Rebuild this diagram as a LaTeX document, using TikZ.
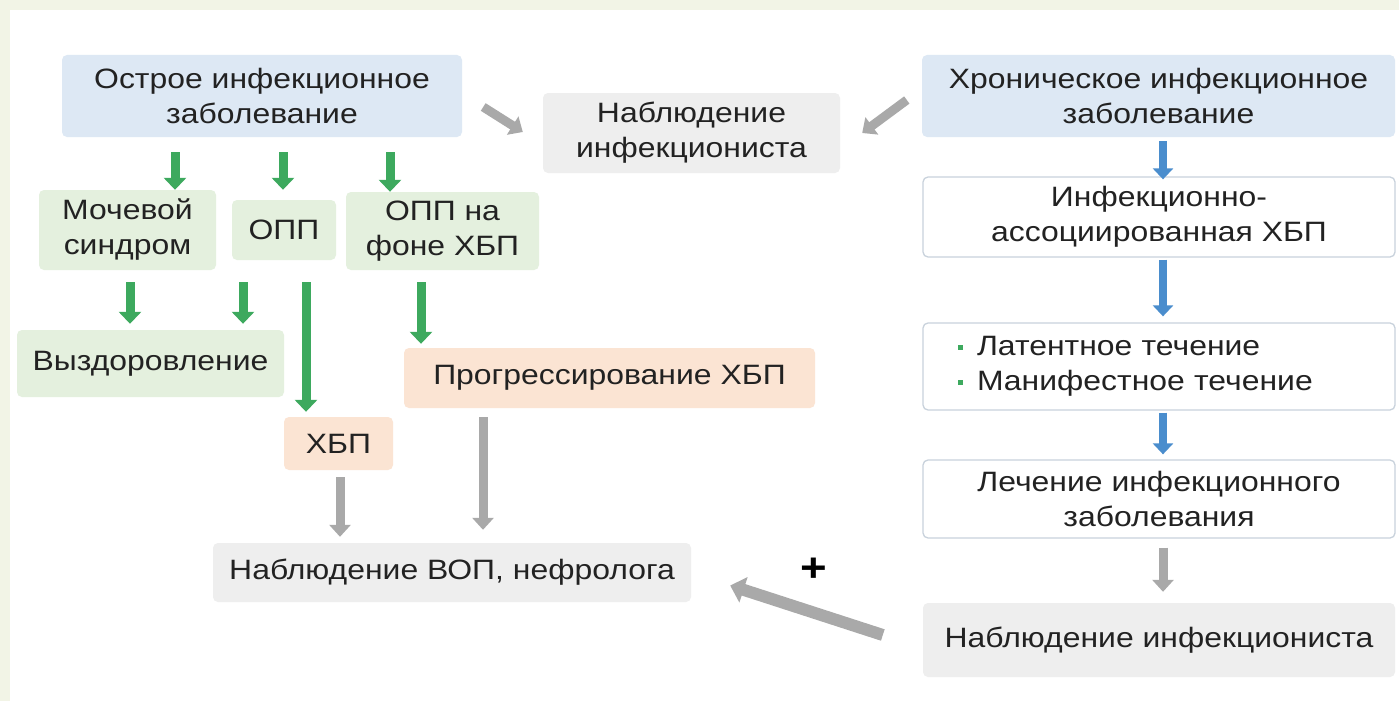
\documentclass[tikz,border=0pt]{standalone}
\usepackage{fontspec}
\setmainfont{Liberation Sans}[FakeStretch=1.14]
\usetikzlibrary{arrows.meta,calc}
\definecolor{bgcream}{HTML}{F2F4E6}
\definecolor{fblue}{HTML}{DDE8F4}
\definecolor{fgreen}{HTML}{E4F0DE}
\definecolor{forange}{HTML}{FBE4D3}
\definecolor{fgray}{HTML}{EEEEEE}
\definecolor{agreen}{HTML}{3DA95E}
\definecolor{ablue}{HTML}{4A8DCD}
\definecolor{agray}{HTML}{A9A9A9}
\definecolor{bline}{HTML}{C9D2DC}
\definecolor{tx}{HTML}{222222}
\newcommand{\gsq}{\textcolor{agreen}{\rule[0.22em]{5pt}{5pt}}\hspace{14pt}}
\begin{document}
\begin{tikzpicture}[x=1pt,y=-1pt,
  box/.style={rounded corners=5pt, inner sep=0pt, align=center, text=tx,
    font=\fontsize{28}{35}\selectfont},
  bluebox/.style={box, fill=fblue},
  greenbox/.style={box, fill=fgreen},
  orangebox/.style={box, fill=forange},
  graybox/.style={box, fill=fgray},
  whitebox/.style={box, fill=white, draw=bline, line width=1.3pt},
  garr/.style={draw=agreen, line width=9pt, -{Triangle[width=22pt,length=12pt]}},
  barr/.style={draw=ablue, line width=8pt, -{Triangle[width=20pt,length=11pt]}},
  grarr/.style={draw=agray, line width=9pt, -{Triangle[width=21pt,length=12pt]}},
  bigarr/.style={draw=agray, line width=12pt, -{Triangle[width=26pt,length=14pt]}},
]
\useasboundingbox (0,0) rectangle (1399,701);
\fill[bgcream] (0,0) rectangle (1399,701);
\fill[white] (10,10) rectangle (1399,701);

% columns
\coordinate (k1) at (175,0);
\coordinate (k2) at (283,0);
\coordinate (k3) at (390,0);
\coordinate (k4) at (130,0);
\coordinate (k5) at (243,0);
\coordinate (k6) at (306,0);
\coordinate (k7) at (421,0);
\coordinate (k8) at (340,0);
\coordinate (k9) at (483,0);
\coordinate (kb) at (1163,0);

% nodes
\node[bluebox, minimum width=400pt, minimum height=82pt] (acute) at (262,96) {Острое инфекционное\\заболевание};
\node[graybox, minimum width=297pt, minimum height=80pt] (obs1) at (691.5,133) {Наблюдение\\инфекциониста};
\node[bluebox, minimum width=473pt, minimum height=82pt] (chronic) at (1158.5,96) {Хроническое инфекционное\\заболевание};

\node[greenbox, minimum width=177pt, minimum height=80pt] (mocha) at (127.5,230) {Мочевой\\синдром};
\node[greenbox, minimum width=104pt, minimum height=60pt] (opp) at (284,230) {ОПП};
\node[greenbox, minimum width=193pt, minimum height=78pt] (oppfon) at (442.5,231) {ОПП на\\фоне ХБП};

\node[greenbox, minimum width=267pt, minimum height=67pt] (recov) at (150.5,363.5) {Выздоровление};
\node[orangebox, minimum width=109pt, minimum height=53pt] (hbp) at (338.5,443.5) {ХБП};
\node[orangebox, minimum width=411pt, minimum height=60pt] (progr) at (609.5,378) {Прогрессирование ХБП};
\node[graybox, minimum width=478pt, minimum height=59pt] (vop) at (452,572.5) {Наблюдение ВОП, нефролога};

\node[whitebox, minimum width=472pt, minimum height=80pt] (assoc) at (1159,217) {Инфекционно-\\ассоциированная ХБП};
\node[whitebox, minimum width=472pt, minimum height=87pt, text width=402pt, inner xsep=35pt, align=left] (course) at (1159,366.5) {\gsq Латентное течение\\\gsq Манифестное течение};
\node[whitebox, minimum width=472pt, minimum height=78pt] (treat) at (1159,499) {Лечение инфекционного\\заболевания};
\node[graybox, minimum width=472pt, minimum height=74pt] (obs2) at (1159,640) {Наблюдение инфекциониста};

\node[font=\fontsize{40}{40}\selectfont\bfseries, text=black, inner sep=0pt] (plus) at (814,570) {+};

% green arrows
\draw[garr] ($(acute.south -| k1)+(0,15)$) -- (mocha.north -| k1);
\draw[garr] ($(acute.south -| k2)+(0,15)$) -- ($(opp.north -| k2)+(0,-10)$);
\draw[garr] ($(acute.south -| k3)+(0,15)$) -- (oppfon.north -| k3);
\draw[garr] ($(mocha.south -| k4)+(0,12)$) -- ($(recov.north -| k4)+(0,-6)$);
\draw[garr] ($(opp.south -| k5)+(0,22)$) -- ($(recov.north -| k5)+(0,-6)$);
\draw[garr] ($(opp.south -| k6)+(0,22)$) -- ($(hbp.north -| k6)+(0,-5)$);
\draw[garr] ($(oppfon.south -| k7)+(0,12)$) -- ($(progr.north -| k7)+(0,-4)$);

% gray arrows
\draw[grarr] ($(hbp.south -| k8)+(0,7)$) -- ($(vop.north -| k8)+(0,-6)$);
\draw[grarr] ($(progr.south -| k9)+(0,9)$) -- ($(vop.north -| k9)+(0,-13)$);
\draw[grarr] ($(acute.east)+(21,11)$) -- ($(obs1.west)+(-20,-1)$);
\draw[grarr] ($(chronic.west)+(-15,4)$) -- ($(obs1.east)+(22,0)$);
\draw[grarr] ($(treat.south -| kb)+(0,9)$) -- ($(obs2.north -| kb)+(0,-11)$);
\draw[bigarr] ($(obs2.west)+(-40,-5)$) -- ($(vop.east)+(39,13)$);

% blue arrows
\draw[barr] ($(chronic.south -| kb)+(0,4)$) -- ($(assoc.north -| kb)+(0,3)$);
\draw[barr] ($(assoc.south -| kb)+(0,2)$) -- ($(course.north -| kb)+(0,-6)$);
\draw[barr] ($(course.south -| kb)+(0,2)$) -- ($(treat.north -| kb)+(0,-5)$);
\end{tikzpicture}
\end{document}
